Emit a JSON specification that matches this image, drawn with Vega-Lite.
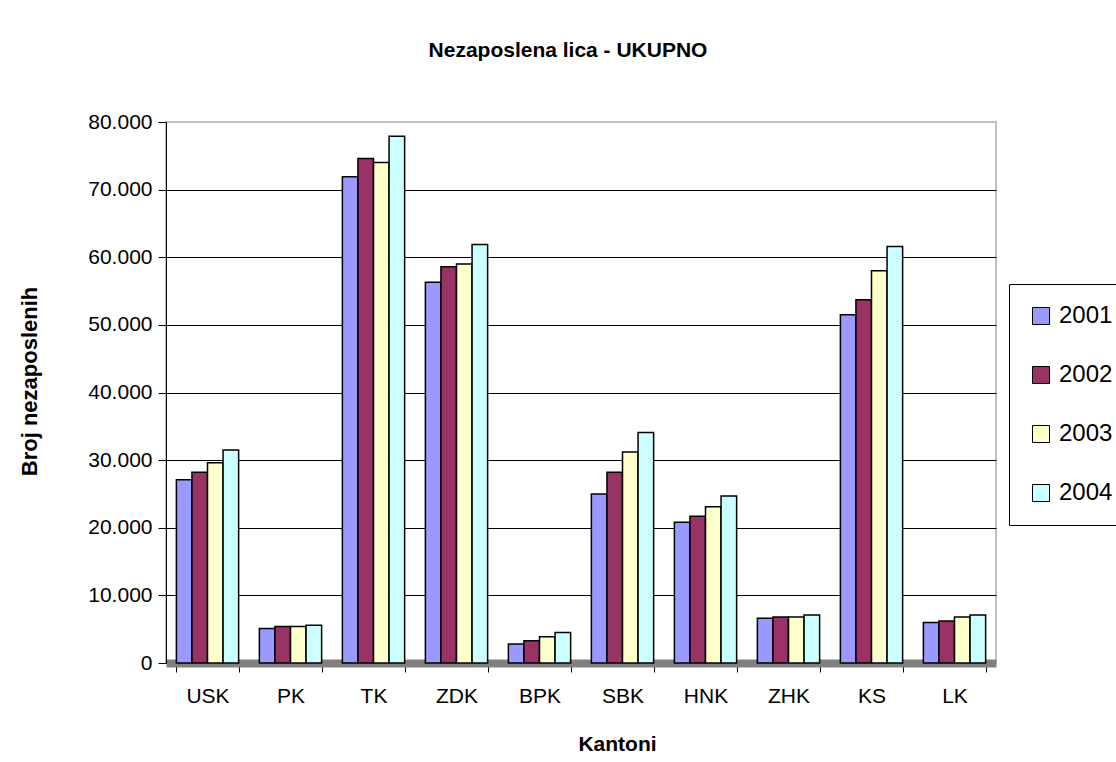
{
  "$schema": "https://vega.github.io/schema/vega-lite/v6.json",
  "autosize": {"type": "none"},
  "width": 830,
  "height": 541,
  "padding": {"left": 166, "top": 122, "right": 120, "bottom": 99},
  "background": "white",
  "title": {
    "text": "Nezaposlena lica - UKUPNO",
    "font": "Liberation Sans",
    "fontSize": 21,
    "fontWeight": "bold",
    "color": "black",
    "anchor": "middle",
    "dx": -13,
    "offset": 50
  },
  "data": {
    "values": [
      {"kanton": "USK", "godina": "2001", "broj": 27100},
      {"kanton": "USK", "godina": "2002", "broj": 28200},
      {"kanton": "USK", "godina": "2003", "broj": 29600},
      {"kanton": "USK", "godina": "2004", "broj": 31500},
      {"kanton": "PK", "godina": "2001", "broj": 5100},
      {"kanton": "PK", "godina": "2002", "broj": 5400},
      {"kanton": "PK", "godina": "2003", "broj": 5400},
      {"kanton": "PK", "godina": "2004", "broj": 5600},
      {"kanton": "TK", "godina": "2001", "broj": 71900},
      {"kanton": "TK", "godina": "2002", "broj": 74600},
      {"kanton": "TK", "godina": "2003", "broj": 74000},
      {"kanton": "TK", "godina": "2004", "broj": 77900},
      {"kanton": "ZDK", "godina": "2001", "broj": 56300},
      {"kanton": "ZDK", "godina": "2002", "broj": 58600},
      {"kanton": "ZDK", "godina": "2003", "broj": 59000},
      {"kanton": "ZDK", "godina": "2004", "broj": 61900},
      {"kanton": "BPK", "godina": "2001", "broj": 2800},
      {"kanton": "BPK", "godina": "2002", "broj": 3300},
      {"kanton": "BPK", "godina": "2003", "broj": 3900},
      {"kanton": "BPK", "godina": "2004", "broj": 4500},
      {"kanton": "SBK", "godina": "2001", "broj": 25000},
      {"kanton": "SBK", "godina": "2002", "broj": 28200},
      {"kanton": "SBK", "godina": "2003", "broj": 31200},
      {"kanton": "SBK", "godina": "2004", "broj": 34100},
      {"kanton": "HNK", "godina": "2001", "broj": 20800},
      {"kanton": "HNK", "godina": "2002", "broj": 21700},
      {"kanton": "HNK", "godina": "2003", "broj": 23100},
      {"kanton": "HNK", "godina": "2004", "broj": 24700},
      {"kanton": "ZHK", "godina": "2001", "broj": 6600},
      {"kanton": "ZHK", "godina": "2002", "broj": 6800},
      {"kanton": "ZHK", "godina": "2003", "broj": 6800},
      {"kanton": "ZHK", "godina": "2004", "broj": 7100},
      {"kanton": "KS", "godina": "2001", "broj": 51500},
      {"kanton": "KS", "godina": "2002", "broj": 53700},
      {"kanton": "KS", "godina": "2003", "broj": 58000},
      {"kanton": "KS", "godina": "2004", "broj": 61600},
      {"kanton": "LK", "godina": "2001", "broj": 6000},
      {"kanton": "LK", "godina": "2002", "broj": 6200},
      {"kanton": "LK", "godina": "2003", "broj": 6800},
      {"kanton": "LK", "godina": "2004", "broj": 7100}
    ]
  },
  "mark": {"type": "bar", "stroke": "black", "strokeWidth": 1.5},
  "encoding": {
    "x": {
      "field": "kanton",
      "type": "nominal",
      "sort": ["USK", "PK", "TK", "ZDK", "BPK", "SBK", "HNK", "ZHK", "KS", "LK"],
      "scale": {"paddingInner": 0.25, "paddingOuter": 0.125},
      "axis": {
        "title": "Kantoni",
        "titleFont": "Liberation Sans",
        "titleFontSize": 21,
        "titleFontWeight": "bold",
        "titleColor": "black",
        "titleX": 451,
        "titleY": 87,
        "titleBaseline": "alphabetic",
        "titleAlign": "center",
        "labelAngle": 0,
        "labelFont": "Liberation Sans",
        "labelFontSize": 21,
        "labelColor": "black",
        "labelPadding": 13,
        "labelBaseline": "top",
        "domainColor": "#808080",
        "domainWidth": 8,
        "ticks": true,
        "tickColor": "black",
        "tickSize": 9,
        "tickWidth": 1,
        "tickBand": "extent",
        "grid": false
      }
    },
    "xOffset": {"field": "godina", "type": "nominal", "sort": ["2001", "2002", "2003", "2004"]},
    "y": {
      "field": "broj",
      "type": "quantitative",
      "scale": {"domain": [0, 80000], "nice": false},
      "axis": {
        "title": "Broj nezaposlenih",
        "titleFont": "Liberation Sans",
        "titleFontSize": 22,
        "titleFontWeight": "bold",
        "titleColor": "black",
        "titleAngle": 270,
        "titleX": -137,
        "titleY": 259,
        "titleBaseline": "middle",
        "titleAlign": "center",
        "values": [0, 10000, 20000, 30000, 40000, 50000, 60000, 70000, 80000],
        "labelExpr": "replace(format(datum.value, ','), ',', '.')",
        "labelFont": "Liberation Sans",
        "labelFontSize": 21,
        "labelColor": "black",
        "labelPadding": 6,
        "tickColor": "black",
        "tickSize": 8,
        "domainColor": "black",
        "grid": true,
        "gridColor": {"condition": {"test": "datum.value === 80000 || datum.value === 0", "value": "#c0c0c0"}, "value": "black"},
        "gridWidth": 1
      }
    },
    "color": {
      "field": "godina",
      "type": "nominal",
      "scale": {
        "domain": ["2001", "2002", "2003", "2004"],
        "range": ["#9999FF", "#993366", "#FFFFCC", "#CCFFFF"]
      },
      "legend": {
        "title": null,
        "orient": "none",
        "legendX": 843,
        "legendY": 162,
        "strokeColor": "black",
        "fillColor": "white",
        "padding": 20,
        "symbolType": "square",
        "symbolSize": 289,
        "symbolStrokeColor": "black",
        "symbolStrokeWidth": 1,
        "symbolOpacity": 1,
        "labelFont": "Liberation Sans",
        "labelFontSize": 24,
        "labelColor": "black",
        "labelOffset": 6,
        "rowPadding": 35
      }
    }
  },
  "config": {
    "view": {"stroke": "#c0c0c0", "strokeWidth": 2}
  }
}
